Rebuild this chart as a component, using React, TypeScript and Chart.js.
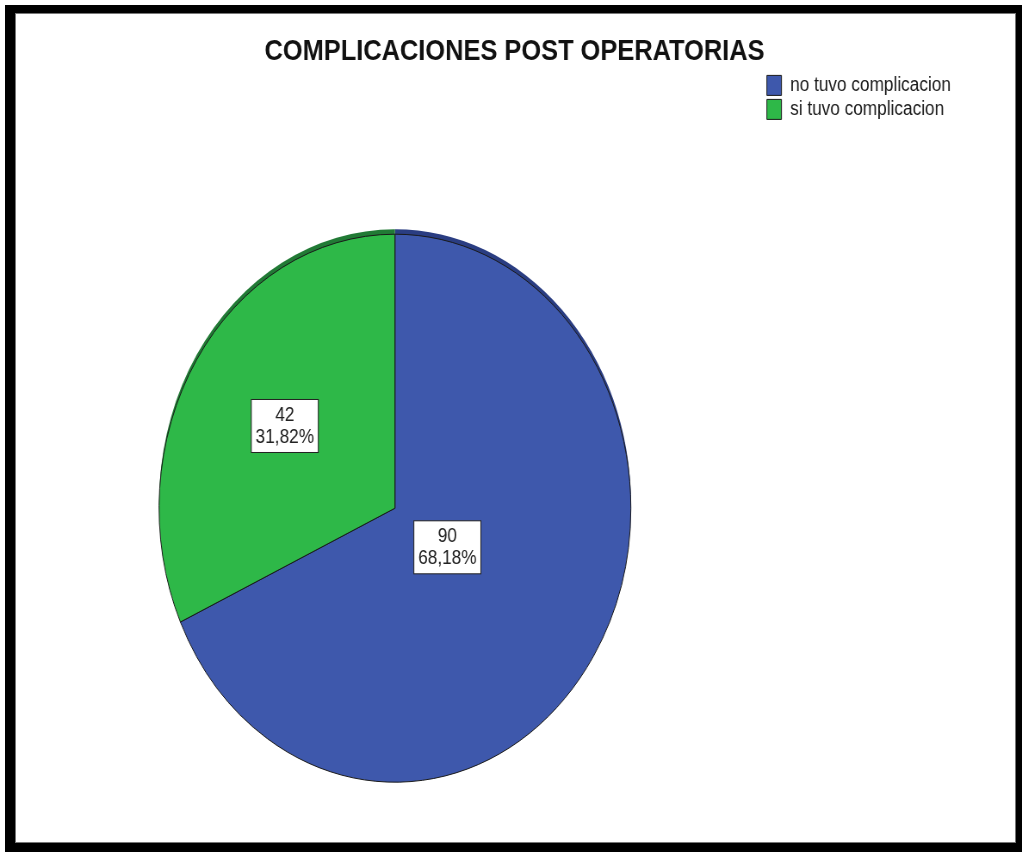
import React, { useEffect, useRef } from 'react';
import { Chart, registerables } from 'chart.js';

Chart.register(...registerables);

// ---- data ----
const chartTitle = 'COMPLICACIONES POST OPERATORIAS';
const categories = ['no tuvo complicacion', 'si tuvo complicacion'];
const counts = [90, 42];
const sliceColors = ['#3E58AC', '#2EB848'];
const rimColors = ['#2A3D82', '#217A35'];
const labelDistance = [0.264, 0.555];

// ---- geometry / style ----
const FONT = "'Liberation Sans', Arial, Helvetica, sans-serif";
const SQUEEZE = 0.861;
const CANVAS_W = 1187;
const CANVAS_H = 945;

const rimPlugin = {
  id: 'rim',
  beforeDatasetDraw(chart: any, args: any, opts: any) {
    const ctx = chart.ctx;
    args.meta.data.forEach((arc: any, i: number) => {
      const original = arc.options;
      arc.options = {
        ...original,
        backgroundColor: opts.colors[i],
        borderColor: opts.colors[i],
        borderWidth: 0,
      };
      ctx.save();
      ctx.translate(0, -opts.shift);
      arc.draw(ctx);
      ctx.restore();
      arc.options = original;
    });
  },
};

const sliceLabelPlugin = {
  id: 'sliceLabels',
  afterDatasetsDraw(chart: any, _args: any, opts: any) {
    const ctx = chart.ctx;
    const meta = chart.getDatasetMeta(0);
    const values = chart.data.datasets[0].data as number[];
    const total = values.reduce((a, b) => a + b, 0);
    meta.data.forEach((arc: any, i: number) => {
      const { x, y, startAngle, endAngle, outerRadius } = arc.getProps(
        ['x', 'y', 'startAngle', 'endAngle', 'outerRadius'],
        true
      );
      const mid = (startAngle + endAngle) / 2;
      const r = outerRadius * opts.distance[i];
      const cx = x + Math.cos(mid) * r;
      const cy = y + Math.sin(mid) * r;
      const lines = [
        String(values[i]),
        ((values[i] / total) * 100).toFixed(2).replace('.', ',') + '%',
      ];
      ctx.save();
      ctx.font = `${opts.fontSize}px ${FONT}`;
      const w = Math.max(...lines.map((l) => ctx.measureText(l).width)) + opts.padX * 2;
      const h = opts.lineHeight * lines.length + opts.padY * 2;
      const left = cx - w / 2;
      const top = cy - h / 2;
      ctx.fillStyle = '#ffffff';
      ctx.fillRect(left, top, w, h);
      ctx.strokeStyle = '#222222';
      ctx.lineWidth = 1;
      ctx.strokeRect(left, top, w, h);
      ctx.fillStyle = '#222222';
      ctx.textAlign = 'center';
      ctx.textBaseline = 'middle';
      lines.forEach((l, j) => {
        ctx.fillText(l, cx, top + opts.padY + opts.lineHeight * (j + 0.5));
      });
      ctx.restore();
    });
  },
};

export default function App() {
  const canvasRef = useRef<HTMLCanvasElement | null>(null);

  useEffect(() => {
    if (!canvasRef.current) return;
    Chart.defaults.font.family = FONT;
    const chart = new Chart(canvasRef.current, {
      type: 'pie',
      data: {
        labels: categories,
        datasets: [
          {
            data: counts,
            backgroundColor: sliceColors,
            borderColor: '#1a1a1a',
            borderWidth: 1,
            radius: 274,
            clip: false,
          } as any,
        ],
      },
      options: {
        responsive: false,
        animation: false,
        layout: { padding: { left: 30.8, right: 22.6, top: 24, bottom: 0 } },
        plugins: {
          title: {
            display: true,
            text: chartTitle,
            color: '#111111',
            font: { family: FONT, size: 29.5, weight: 'bold' },
            padding: { top: 10, bottom: 2 },
          },
          subtitle: {
            display: true,
            position: 'right',
            fullSize: false,
            text: '',
            font: { family: FONT, size: 20 },
            padding: { top: 0, bottom: 26 },
          },
          legend: {
            position: 'right',
            align: 'start',
            fullSize: false,
            labels: {
              boxWidth: 17,
              boxHeight: 20,
              padding: 4,
              color: '#1a1a1a',
              font: { family: FONT, size: 20 },
            },
          },
          tooltip: { enabled: false },
          rim: { colors: rimColors, shift: 5 },
          sliceLabels: { distance: labelDistance, fontSize: 20, lineHeight: 22, padX: 5, padY: 4.5 },
        } as any,
      },
      plugins: [rimPlugin, sliceLabelPlugin],
    });
    return () => chart.destroy();
  }, []);

  return (
    <div
      style={{
        position: 'fixed',
        left: 0,
        top: 0,
        width: 1022,
        height: 852,
        overflow: 'hidden',
        background: '#ffffff',
      }}
    >
      <div
        style={{
          position: 'absolute',
          left: 0,
          top: 0,
          width: CANVAS_W,
          height: CANVAS_H,
          transform: `scaleX(${SQUEEZE})`,
          transformOrigin: '0 0',
        }}
      >
        <canvas
          ref={canvasRef}
          width={CANVAS_W}
          height={CANVAS_H}
          style={{ display: 'block', width: CANVAS_W, height: CANVAS_H }}
        />
      </div>
      <div
        style={{
          position: 'absolute',
          left: 5,
          top: 5,
          width: 1017,
          height: 847,
          boxSizing: 'border-box',
          borderStyle: 'solid',
          borderColor: '#000000',
          borderWidth: '8px 6px 9px 10px',
          boxShadow: 'inset 0 0 0 1px #777777',
          pointerEvents: 'none',
        }}
      />
    </div>
  );
}
